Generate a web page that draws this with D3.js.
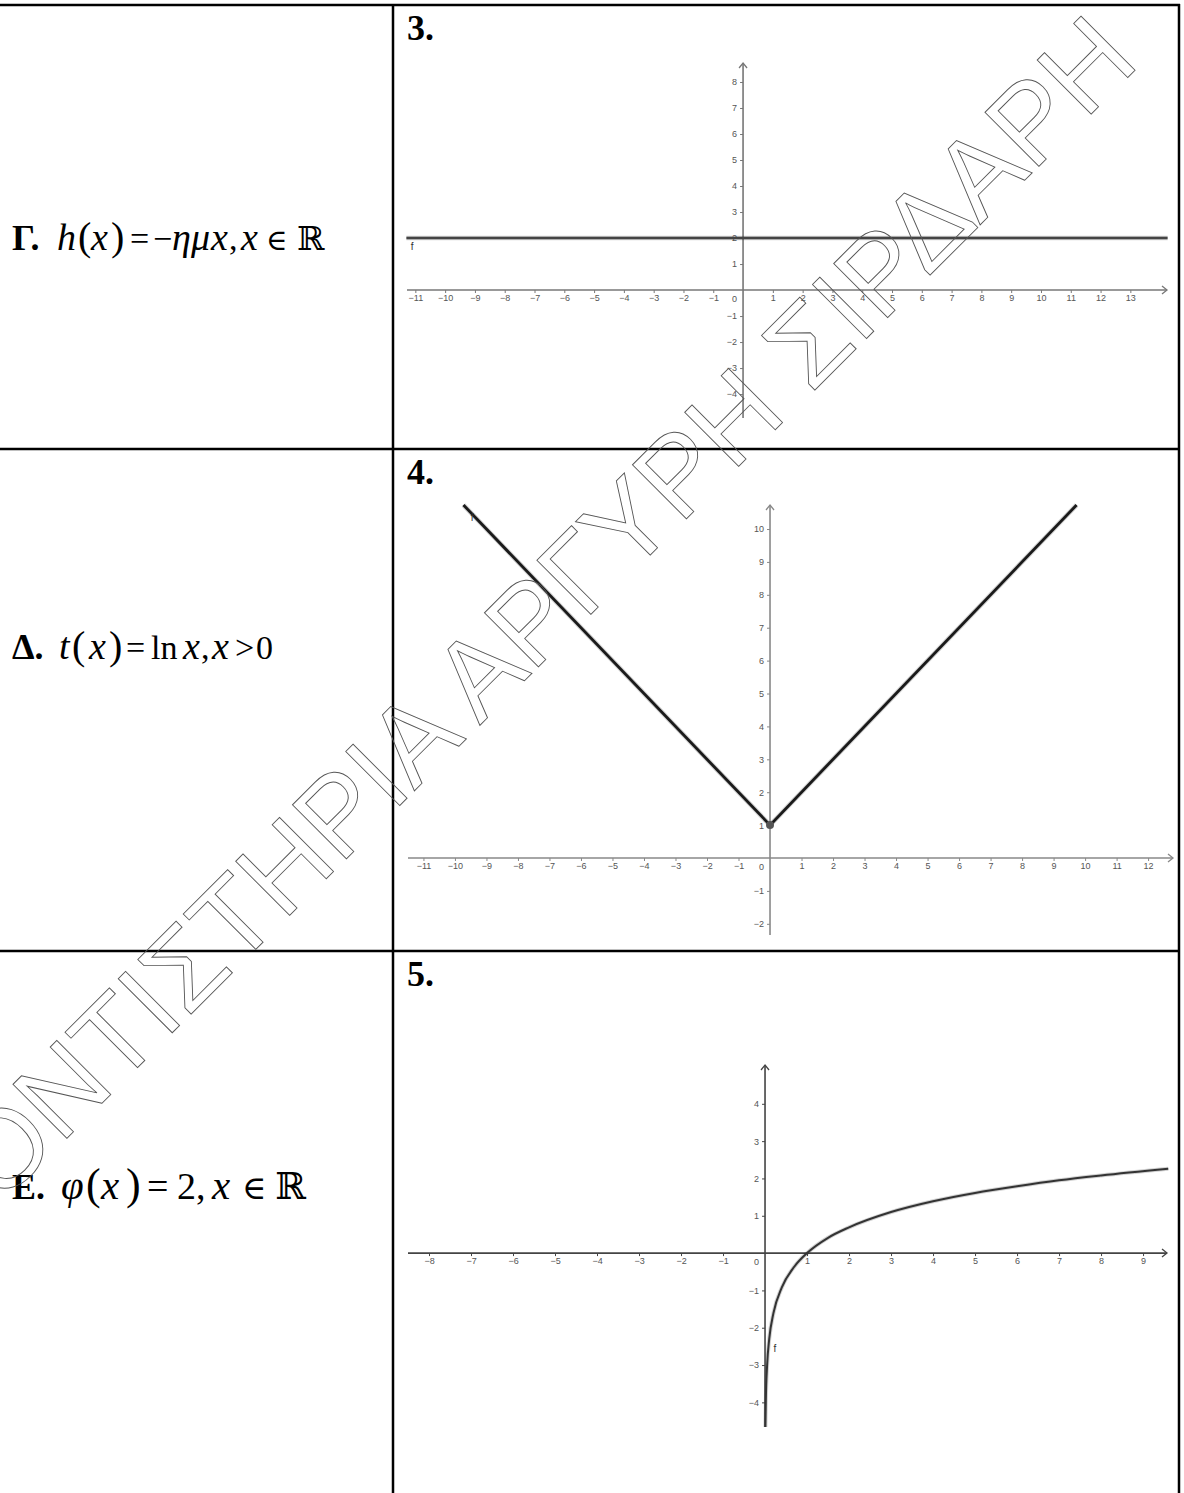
<!DOCTYPE html>
<html>
<head>
<meta charset="utf-8">
<script src="https://cdn.jsdelivr.net/npm/d3@7"></script>
<style>
  body { margin: 0; background: #fff; }
  svg { display: block; }
  .tick text { font-family: "Liberation Sans", Arial, sans-serif; font-size: 9px; fill: #555; }
  .formula { font-family: "Liberation Serif", "Times New Roman", serif; fill: #000; }
</style>
</head>
<body>
<svg id="chart" width="1184" height="1493"></svg>
<script>
// row labels (left column) and plot numbers (right column)
const rowLetters = ["Γ.", "Δ.", "Ε."];
const plotNumbers = ["3.", "4.", "5."];

// tick labels
const ticksX3 = [-11, -10, -9, -8, -7, -6, -5, -4, -3, -2, -1, 1, 2, 3, 4, 5, 6, 7, 8, 9, 10, 11, 12, 13];
const ticksY3 = [-4, -3, -2, -1, 1, 2, 3, 4, 5, 6, 7, 8];
const ticksX4 = [-11, -10, -9, -8, -7, -6, -5, -4, -3, -2, -1, 1, 2, 3, 4, 5, 6, 7, 8, 9, 10, 11, 12];
const ticksY4 = [-2, -1, 1, 2, 3, 4, 5, 6, 7, 8, 9, 10];
const ticksX5 = [-8, -7, -6, -5, -4, -3, -2, -1, 1, 2, 3, 4, 5, 6, 7, 8, 9];
const ticksY5 = [-4, -3, -2, -1, 1, 2, 3, 4];

// curves
const graph3X = [-11.3, 14.25];
const graph3Y = [2, 2];
const graph4X = [-9.73, 0, 9.73];
const graph4Y = [10.73, 1, 10.73];
const graph5X = [0.0095, 0.02, 0.05, 0.1, 0.2, 0.4, 0.7, 1, 1.5, 2, 3, 4, 5, 6, 7, 8, 9.6];
const graph5Y = [-4.66, -3.91, -3.0, -2.3, -1.61, -0.92, -0.36, 0, 0.41, 0.69, 1.1, 1.39, 1.61, 1.79, 1.95, 2.08, 2.26];
const point4 = [0, 1];

const svg = d3.select('#chart');
const fmt = d => (d < 0 ? '\u2212' + Math.abs(d) : String(d));

// table lines
const rowTops = [5, 449, 951];
svg.selectAll('.hline').data(rowTops).enter().append('line')
  .attr('x1', 0).attr('x2', 1180).attr('y1', d => d).attr('y2', d => d)
  .attr('stroke', '#000').attr('stroke-width', 2.5);
svg.selectAll('.vline').data([393, 1179]).enter().append('line')
  .attr('x1', d => d).attr('x2', d => d).attr('y1', 4).attr('y2', 1493)
  .attr('stroke', '#000').attr('stroke-width', 2.5);

// plot numbers
svg.selectAll('.num').data(plotNumbers).enter().append('text')
  .attr('x', 407).attr('y', (d, i) => rowTops[i] + 35)
  .attr('font-family', '"Liberation Serif", serif').attr('font-weight', 'bold')
  .attr('font-size', 36).text(d => d);

// left column formulas: [text, kind, left x]
const formulas = [
  [["h", "i", 57], ["(", "p", 78], ["x", "i", 91], [")", "p", 111], ["=", "n", 130], ["\u2212", "n", 153],
   ["η", "i", 172], ["μ", "i", 191], ["x", "i", 211], [",", "n", 229], ["x", "i", 241],
   ["\u2208", "e", 266], ["\u211D", "r", 297]],
  [["t", "i", 59], ["(", "p", 72], ["x", "i", 89], [")", "p", 109], ["=", "n", 126], ["ln", "n", 151],
   ["x", "i", 183], [",", "n", 201], ["x", "i", 212], [">", "n", 235], ["0", "n", 256]],
  [["φ", "i", 61], ["(", "p", 86], ["x", "i", 101], [")", "p", 126], ["=", "n", 147], ["2", "n", 177],
   [",", "n", 196], ["x", "i", 212], ["\u2208", "e", 242], ["\u211D", "r", 275]]
];
const formulaSize = [34, 34, 38];
const varSize = [38, 38, 41];
const formulaBase = [250, 659, 1199];
formulas.forEach((parts, i) => {
  const f = formulaSize[i];
  const t = svg.append('text').attr('class', 'formula').attr('y', formulaBase[i]).attr('font-size', f);
  t.append('tspan').attr('x', 12).attr('font-weight', 'bold').attr('font-size', 36).text(rowLetters[i]);
  parts.forEach(([s, k, px]) => {
    const ts = t.append('tspan').attr('x', px).text(s);
    if (k === 'i') ts.attr('font-style', 'italic').attr('font-size', varSize[i]);
    if (k === 'p') ts.attr('font-size', f + 6);
    if (k === 'e') ts.attr('font-size', f - 5).attr('font-family', '"DejaVu Serif", serif');
    if (k === 'r') ts.attr('font-family', '"DejaVu Serif", serif').attr('font-size', f - 1);
  });
});

// plots
const plots = [
  { xDom: [-11.28, 14.23], yDom: [-4.92, 8.73], left: 407, right: 1167, top: 63, bottom: 418,
    xTicks: ticksX3, yTicks: ticksY3, gx: graph3X, gy: graph3Y, axis: '#777', line: '#444', lw: 2.4,
    label: [-11.15, 1.55] },
  { xDom: [-11.49, 12.79], yDom: [-2.34, 10.73], left: 408, right: 1173, top: 505, bottom: 935,
    xTicks: ticksX4, yTicks: ticksY4, gx: graph4X, gy: graph4Y, axis: '#888', line: '#1a1a1a', lw: 2.8,
    label: [-9.5, 10.25], point: point4 },
  { xDom: [-8.5, 9.57], yDom: [-4.66, 5.04], left: 408, right: 1167, top: 1065, bottom: 1427,
    xTicks: ticksX5, yTicks: ticksY5, gx: graph5X, gy: graph5Y, axis: '#444', line: '#333', lw: 2,
    label: [0.2, -2.65], curve: true }
];

plots.forEach(p => {
  const x = d3.scaleLinear().domain(p.xDom).range([p.left, p.right]);
  const y = d3.scaleLinear().domain(p.yDom).range([p.bottom, p.top]);
  const g = svg.append('g');
  const x0 = x(0), y0 = y(0);

  const xa = g.append('g').attr('transform', `translate(0,${y0})`)
    .call(d3.axisBottom(x).tickValues(p.xTicks).tickSize(3).tickPadding(2).tickFormat(fmt));
  xa.select('.domain').remove();
  const ya = g.append('g').attr('transform', `translate(${x0},0)`)
    .call(d3.axisLeft(y).tickValues(p.yTicks).tickSize(3).tickPadding(3).tickFormat(fmt));
  ya.select('.domain').remove();
  g.selectAll('.tick line').attr('stroke', p.axis);

  g.append('text').attr('x', x0 - 6).attr('y', y0 + 11.5).attr('text-anchor', 'end')
    .attr('font-family', '"Liberation Sans", Arial, sans-serif').attr('font-size', 9)
    .attr('fill', '#555').text('0');

  // axis lines with open arrow heads
  g.append('line').attr('x1', p.left).attr('x2', p.right).attr('y1', y0).attr('y2', y0)
    .attr('stroke', p.axis).attr('stroke-width', 1.6);
  g.append('line').attr('x1', x0).attr('x2', x0).attr('y1', p.bottom).attr('y2', p.top)
    .attr('stroke', p.axis).attr('stroke-width', 1.6);
  g.append('path').attr('d', `M${p.right - 5},${y0 - 4}L${p.right},${y0}L${p.right - 5},${y0 + 4}`)
    .attr('fill', 'none').attr('stroke', p.axis).attr('stroke-width', 1.3);
  g.append('path').attr('d', `M${x0 - 4},${p.top + 5}L${x0},${p.top}L${x0 + 4},${p.top + 5}`)
    .attr('fill', 'none').attr('stroke', p.axis).attr('stroke-width', 1.3);

  const pts = p.gx.map((v, i) => [v, p.gy[i]]);
  const line = d3.line().x(d => x(d[0])).y(d => y(d[1]))
    .curve(p.curve ? d3.curveMonotoneX : d3.curveLinear);
  g.append('path').attr('d', line(pts)).attr('fill', 'none')
    .attr('stroke', '#000').attr('stroke-opacity', 0.18).attr('stroke-width', p.lw + 2);
  g.append('path').attr('d', line(pts)).attr('fill', 'none')
    .attr('stroke', p.line).attr('stroke-width', p.lw);

  if (p.point) {
    g.append('circle').attr('cx', x(p.point[0])).attr('cy', y(p.point[1])).attr('r', 4)
      .attr('fill', '#555');
  }
  g.append('text').attr('x', x(p.label[0])).attr('y', y(p.label[1]))
    .attr('font-family', '"Liberation Sans", Arial, sans-serif').attr('font-size', 10)
    .attr('fill', '#333').text('f');
});

// watermark: outlined diagonal lettering
svg.append('text')
  .attr('transform', 'translate(1141.5,63.7) rotate(-45)')
  .attr('text-anchor', 'end')
  .attr('font-family', '"Liberation Sans", Arial, sans-serif')
  .attr('font-size', 111)
  .attr('fill', 'none').attr('stroke', '#555').attr('stroke-width', 0.9)
  .text('ΦΡΟΝΤΙΣΤΗΡΙΑ ΑΡΓΥΡΗ ΣΙΡΔΑΡΗ');
</script>
</body>
</html>
